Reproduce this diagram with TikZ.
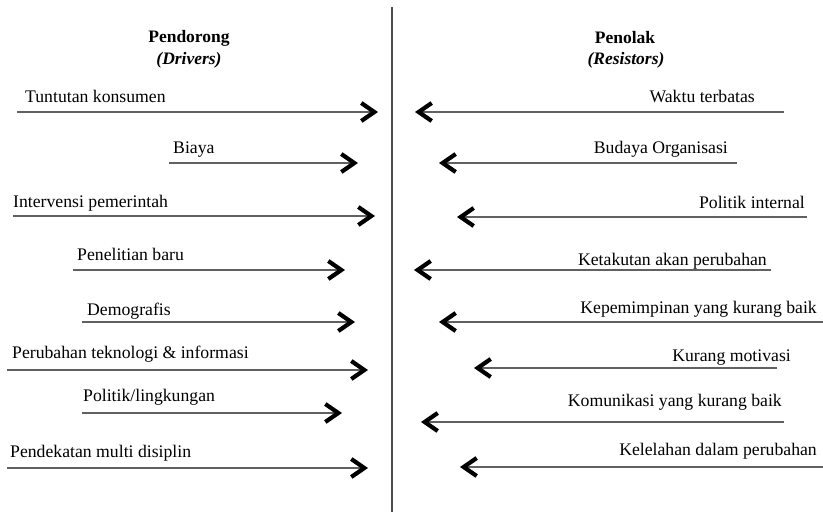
\documentclass[tikz,border=0pt]{standalone}
\usepackage{fontspec}
\setmainfont{Liberation Serif}
\usetikzlibrary{arrows.meta}

\begin{document}
\begin{tikzpicture}[
  x=1pt,y=-1pt,
  font=\fontsize{17.7}{20}\selectfont,
  lbl/.style={inner sep=0pt},
  lblL/.style={lbl,anchor=base west},
  lblR/.style={lbl,anchor=base east},
  head/.style={inner sep=0pt,anchor=base,font=\fontsize{17.5}{20}\selectfont\bfseries},
  force/.style={-{Straight Barb[length=13pt,width=18pt,line width=4.2pt,color=black]},line width=1.5pt,draw=black!62},
  divider/.style={line width=1.3pt,draw=black!70}]

  \useasboundingbox (0,0) rectangle (823,512);

  % Headers and the middle line
  \node[head] (Pendorong) at (189,42) {Pendorong};
  \node[head] (Drivers) at (189,64) {\itshape (Drivers)};
  \node[head] (Penolak) at (625,43) {Penolak};
  \node[head] (Resistors) at (626,64) {\itshape (Resistors)};
  \coordinate (midtop) at (392,7);
  \coordinate (midbot) at (392,512);
  \draw[divider] (midtop) -- (midbot);

  % Drivers: labels and arrows pointing right
  \node[lblL] (Tuntutan) at (25,102) {Tuntutan konsumen};
  \coordinate (d1s) at (17,112); \coordinate (d1e) at (378,112);
  \draw[force] (d1s) -- (d1e);
  \node[lblL] (Biaya) at (173,153) {Biaya};
  \coordinate (d2s) at (169,163); \coordinate (d2e) at (358,163);
  \draw[force] (d2s) -- (d2e);
  \node[lblL] (Intervensi) at (13,207) {Intervensi pemerintah};
  \coordinate (d3s) at (13,216); \coordinate (d3e) at (375,216);
  \draw[force] (d3s) -- (d3e);
  \node[lblL] (Penelitian) at (77,260) {Penelitian baru};
  \coordinate (d4s) at (73,270); \coordinate (d4e) at (345,270);
  \draw[force] (d4s) -- (d4e);
  \node[lblL] (Demografis) at (87,315) {Demografis};
  \coordinate (d5s) at (82,322); \coordinate (d5e) at (355,322);
  \draw[force] (d5s) -- (d5e);
  \node[lblL] (Teknologi) at (12,358) {Perubahan teknologi \& informasi};
  \coordinate (d6s) at (7,370); \coordinate (d6e) at (368,370);
  \draw[force] (d6s) -- (d6e);
  \node[lblL] (Lingkungan) at (83,401) {Politik/lingkungan};
  \coordinate (d7s) at (82,413); \coordinate (d7e) at (342,413);
  \draw[force] (d7s) -- (d7e);
  \node[lblL] (Disiplin) at (10,457) {Pendekatan multi disiplin};
  \coordinate (d8s) at (7,468); \coordinate (d8e) at (368,468);
  \draw[force] (d8s) -- (d8e);

  % Resistors: labels and arrows pointing left
  \node[lblR] (Waktu) at (755,102) {Waktu terbatas};
  \coordinate (r1s) at (784,112); \coordinate (r1e) at (415,112);
  \draw[force] (r1s) -- (r1e);
  \node[lblR] (Budaya) at (728,153) {Budaya Organisasi};
  \coordinate (r2s) at (737,163); \coordinate (r2e) at (439,163);
  \draw[force] (r2s) -- (r2e);
  \node[lblR] (Internal) at (805,208) {Politik internal};
  \coordinate (r3s) at (807,217); \coordinate (r3e) at (457,217);
  \draw[force] (r3s) -- (r3e);
  \node[lblR] (Ketakutan) at (767,265) {Ketakutan akan perubahan};
  \coordinate (r4s) at (771,270); \coordinate (r4e) at (414,270);
  \draw[force] (r4s) -- (r4e);
  \node[lblR] (Kepemimpinan) at (817,313) {Kepemimpinan yang kurang baik};
  \coordinate (r5s) at (824,322); \coordinate (r5e) at (439,322);
  \draw[force] (r5s) -- (r5e);
  \node[lblR] (Motivasi) at (791,361) {Kurang motivasi};
  \coordinate (r6s) at (777,368); \coordinate (r6e) at (474,368);
  \draw[force] (r6s) -- (r6e);
  \node[lblR] (Komunikasi) at (782,406) {Komunikasi yang kurang baik};
  \coordinate (r7s) at (784,422); \coordinate (r7e) at (421,422);
  \draw[force] (r7s) -- (r7e);
  \node[lblR] (Kelelahan) at (817,455) {Kelelahan dalam perubahan};
  \coordinate (r8s) at (823,467); \coordinate (r8e) at (460,467);
  \draw[force] (r8s) -- (r8e);
\end{tikzpicture}
\end{document}
